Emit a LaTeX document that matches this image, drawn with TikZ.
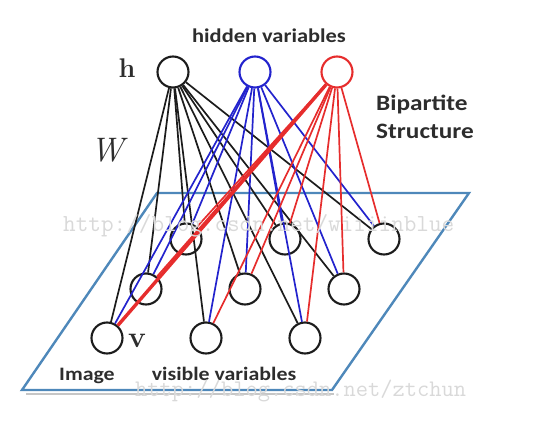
\documentclass[tikz,border=0pt]{standalone}
\usepackage{fontspec}
\usepackage{graphicx}
\newfontfamily\labfont{Carlito}
\definecolor{planeblue}{RGB}{78,136,186}
\definecolor{hblue}{RGB}{35,35,205}
\definecolor{hred}{RGB}{230,45,45}
\definecolor{hblack}{RGB}{28,28,28}
\definecolor{labgray}{RGB}{45,45,45}
\newcommand{\lab}[2]{\scalebox{1.15}[1]{\fontsize{#1}{#1}\selectfont\labfont\bfseries #2}}
\tikzset{
  unit/.style={circle, draw=#1, line width=2.1pt, minimum size=31pt, inner sep=0pt},
  wire/.style={draw=#1, line width=1.7pt},
  wmark/.style={text=gray!30, inner sep=0pt, anchor=base west, font=\ttfamily},
  lbl/.style={text=labgray, inner sep=0pt}
}
\begin{document}
\begin{tikzpicture}[x=1pt,y=-1pt]
\useasboundingbox (0,0) rectangle (533,425);
% plane
\draw[gray!45, line width=2pt] (26,393.5) -- (334,393.5);
\draw[planeblue, line width=2.4pt, line join=miter]
  (157,193) -- (469,193) -- (332,390) -- (22,390) -- cycle;
% hidden units
\node[unit=hblack] (h1) at (173,72) {};
\node[unit=hblue]  (h2) at (255,72) {};
\node[unit=hred]   (h3) at (337,72) {};
% visible units
\node[unit=hblack] (b1) at (107,338) {};
\node[unit=hblack] (b2) at (206,338) {};
\node[unit=hblack] (b3) at (305,338) {};
\node[unit=hblack] (m1) at (146,289) {};
\node[unit=hblack] (m2) at (245,289) {};
\node[unit=hblack] (m3) at (344,289) {};
\node[unit=hblack] (t1) at (186,239) {};
\node[unit=hblack] (t2) at (285,239) {};
\node[unit=hblack] (t3) at (384,239) {};
% connections
\foreach \v in {b1,b2,b3,m1,m2,m3,t1,t2,t3} \draw[wire=hblack] (h1) -- (\v);
\foreach \v in {b1,b2,b3,m1,m2,m3,t1,t2,t3} \draw[wire=hblue] (h2) -- (\v);
\foreach \v in {b2,b3,m1,m2,m3,t1,t2,t3} \draw[wire=hred] (h3) -- (\v);
\draw[wire=hred, line width=3.4pt] (h3) -- (b1);
% labels
\node[lbl, anchor=base] (hv) at (269,43) {\lab{19.5}{hidden variables}};
\node[lbl, anchor=base west] (bp) at (376,111) {\lab{22}{Bipartite}};
\node[lbl, anchor=base west] (st) at (376,139) {\lab{22}{Structure}};
\node[lbl, anchor=base west] (im) at (59,380) {\lab{19}{Image}};
\node[lbl, anchor=base] (vv) at (224,380) {\lab{19}{visible variables}};
\node[lbl, anchor=base] (hl) at (127,78) {\fontsize{27}{30}\selectfont\bfseries h};
\node[lbl, anchor=base] (wl) at (107,162) {\fontsize{34}{40}\selectfont\itshape W};
\node[lbl, anchor=base] (vl) at (137,347) {\fontsize{30}{36}\selectfont\bfseries v};
% watermarks
\node[wmark] (wm1) at (63,231) {\fontsize{24.5}{28}\selectfont http://blog.csdn.net/wiiiinblue};
\node[wmark] (wm2) at (135,396) {\fontsize{23.8}{28}\selectfont http://blog.csdn.net/ztchun};
\end{tikzpicture}
\end{document}
